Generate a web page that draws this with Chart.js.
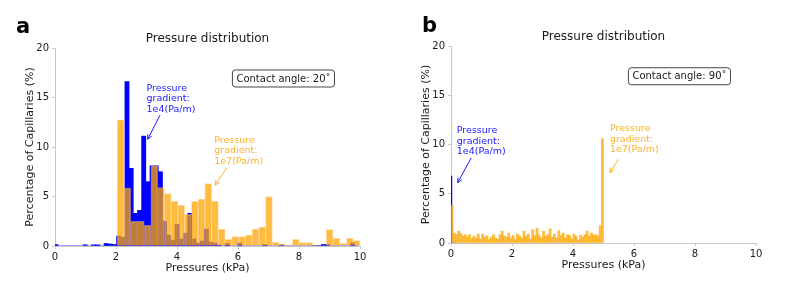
<!DOCTYPE html>
<html><head><meta charset="utf-8">
<script src="https://cdn.jsdelivr.net/npm/chart.js@4.4.1/dist/chart.umd.min.js"></script>
<style>
html,body{margin:0;padding:0;background:#fff;width:804px;height:295px;overflow:hidden}
.wrap{position:absolute;top:0;width:402px;height:295px}
</style></head><body>
<div class="wrap" style="left:0"><canvas id="ca" width="402" height="295"></canvas></div>
<div class="wrap" style="left:402px"><canvas id="cb" width="402" height="295"></canvas></div>
<script>
// ---------------- data ----------------
const xTickValues = [0, 2, 4, 6, 8, 10];
const yTickValues = [0, 5, 10, 15, 20];

// Panel a, gradient 1e7 (orange): histogram bins
const orangeA_binStart = 2.04, orangeA_binWidth = 0.2211;
const orangeA = [12.75, 5.85, 2.5, 2.5, 2.1, 8.1, 5.9, 5.3, 4.5, 4.1, 3.2, 4.5, 4.75, 6.3, 4.5, 1.7,
  0.67, 0.94, 0.94, 1.1, 1.7, 1.9, 5.0, 0.37, 0.17, 0.1, 0.67, 0.34, 0.34, 0.1, 0.05, 1.65, 0.78, 0.27, 0.8, 0.54];

// Panel a, gradient 1e4 (blue)
const blueA_binStart = -0.037, blueA_binWidth = 0.137;
const blueA = [0.15, 0, 0, 0, 0, 0, 0, 0.12, 0, 0.12, 0.12, 0, 0.25, 0.2, 0.15, 1.0, 0.9,
  16.6, 7.85, 3.3, 3.6, 11.1, 6.5, 8.1, 8.1, 7.5, 2.5, 1.1, 0.6, 2.2, 0.7, 1.3, 3.3, 0.7, 0.3, 0.5,
  1.7, 0.4, 0.3, 0.1, 0, 0.25, 0, 0, 0.3, 0, 0, 0, 0, 0, 0.12, 0, 0, 0, 0.1, 0, 0, 0, 0, 0, 0, 0,
  0.05, 0.05, 0.15, 0.15, 0, 0, 0, 0, 0, 0.3, 0];

// Panel b, gradient 1e7 (orange)
const orangeB_binStart = 0, orangeB_binWidth = 5 / 70;
const orangeB = [3.8, 1.0, 0.85, 1.2, 1.0, 0.7, 0.85, 0.6, 0.85, 0.45, 0.7, 0.5, 0.9, 0.4, 0.9, 0.6,
  0.75, 0.35, 0.6, 0.85, 0.5, 0.4, 0.85, 1.2, 0.7, 0.6, 1.0, 0.5, 0.75, 0.35, 0.9, 0.7, 0.5, 1.2, 0.7,
  0.9, 0.4, 1.35, 0.75, 1.5, 0.75, 0.5, 1.2, 0.7, 0.85, 1.45, 0.6, 0.9, 0.5, 1.25, 0.75, 1.0, 0.5, 0.85,
  0.75, 0.4, 0.9, 0.7, 0.3, 0.8, 0.6, 0.85, 1.2, 0.7, 1.0, 0.8, 0.85, 0.7, 1.75, 10.6];

// Panel b, gradient 1e4 (blue)
const blueB_binStart = -0.03, blueB_binWidth = 0.06;
const blueB = [6.8, 0, 0];

// ---------------- helpers ----------------
const FONT = "'DejaVu Sans', 'Liberation Sans', sans-serif";
const ORANGE = 'rgba(255,165,0,0.75)';
const BLUE = '#0000ff';
const TEXT = '#1a1a1a';
const AXIS = '#c8c8c8';

function toBins(start, width, values) {
  return values.map((v, i) => ({ x: start + (i + 0.5) * width, y: v }));
}

function drawArrow(ctx, x1, y1, x2, y2, color) {
  ctx.save();
  ctx.strokeStyle = color; ctx.lineWidth = 1;
  ctx.beginPath(); ctx.moveTo(x1, y1); ctx.lineTo(x2, y2); ctx.stroke();
  const a = Math.atan2(y2 - y1, x2 - x1), L = 5, s = 0.45;
  ctx.beginPath();
  ctx.moveTo(x2 - L * Math.cos(a - s), y2 - L * Math.sin(a - s));
  ctx.lineTo(x2, y2);
  ctx.lineTo(x2 - L * Math.cos(a + s), y2 - L * Math.sin(a + s));
  ctx.stroke();
  ctx.restore();
}

const decorPlugin = {
  id: 'decor',
  afterDraw(chart, args, o) {
    const ctx = chart.ctx, ca = chart.chartArea;
    const xs = chart.scales.x, ys = chart.scales.y;
    ctx.save();
    ctx.fillStyle = '#000';
    ctx.font = 'bold 21px ' + FONT;
    ctx.textAlign = 'left'; ctx.textBaseline = 'alphabetic';
    ctx.fillText(o.letter, o.letterX, o.letterY);
    ctx.font = '12px ' + FONT; ctx.fillStyle = TEXT;
    ctx.textAlign = 'center';
    ctx.fillText('Pressure distribution', (ca.left + ca.right) / 2, ca.top - 6);
    ctx.font = '11px ' + FONT;
    ctx.fillText('Pressures (kPa)', (ca.left + ca.right) / 2, ca.bottom + 25);
    ctx.save();
    ctx.translate(ca.left - 25, (ca.top + ca.bottom) / 2);
    ctx.rotate(-Math.PI / 2);
    ctx.textBaseline = 'middle';
    ctx.fillText('Percentage of Capillaries (%)', 0, 0);
    ctx.restore();
    ctx.font = '10px ' + FONT;
    const txt = 'Contact angle: ' + o.angle + '˚';
    const tw = ctx.measureText(txt).width;
    const bx = xs.getPixelForValue(o.box[0]), by = ys.getPixelForValue(o.box[1]);
    const w = tw + 8, h = 17, r = 3;
    ctx.beginPath();
    ctx.roundRect(bx - w / 2, by - h / 2, w, h, r);
    ctx.fillStyle = '#fff'; ctx.fill();
    ctx.strokeStyle = '#444'; ctx.lineWidth = 1; ctx.stroke();
    ctx.fillStyle = TEXT; ctx.textAlign = 'center'; ctx.textBaseline = 'middle';
    ctx.fillText(txt, bx, by + 0.5);
    ctx.font = '9.5px ' + FONT; ctx.textAlign = 'left'; ctx.textBaseline = 'alphabetic';
    for (const n of o.notes) {
      ctx.fillStyle = n.color;
      const px = xs.getPixelForValue(n.x), py = ys.getPixelForValue(n.y);
      n.lines.forEach((ln, i) => ctx.fillText(ln, px, py + i * 10.5));
      drawArrow(ctx, xs.getPixelForValue(n.arrow[0]), ys.getPixelForValue(n.arrow[1]),
        xs.getPixelForValue(n.arrow[2]), ys.getPixelForValue(n.arrow[3]), n.color);
    }
    ctx.restore();
  }
};

function makeChart(id, orangeData, blueData, layout, decor, orangeBorder) {
  const axisCommon = {
    type: 'linear',
    grid: { drawOnChartArea: false, drawTicks: true, tickLength: 3, color: AXIS, offset: false },
    border: { color: AXIS, width: 1 },
  };
  return new Chart(document.getElementById(id), {
    type: 'bar',
    data: {
      datasets: [
        { label: '1e7', data: orangeData, xAxisID: 'x', backgroundColor: ORANGE,
          borderColor: 'rgba(255,190,90,0.55)', borderWidth: orangeBorder, borderSkipped: 'bottom',
          barPercentage: 1, categoryPercentage: 1, grouped: false, order: 0 },
        { label: '1e4', data: blueData, xAxisID: 'x2', backgroundColor: BLUE, borderWidth: 0,
          barPercentage: 1, categoryPercentage: 1, grouped: false, order: 1 }
      ]
    },
    options: {
      responsive: false, animation: false, devicePixelRatio: 1,
      layout: { padding: { left: 0, top: layout.top, right: layout.right, bottom: 0 } },
      plugins: { legend: { display: false }, tooltip: { enabled: false }, decor },
      scales: {
        x: Object.assign({}, axisCommon, {
          min: 0, max: 10, position: 'bottom', offset: false,
          afterBuildTicks: s => { s.ticks = xTickValues.map(v => ({ value: v })); },
          ticks: { color: TEXT, font: { family: FONT, size: 10 }, padding: 2, maxRotation: 0 },
          afterFit: s => { s.height = layout.xh; }
        }),
        x2: { type: 'linear', min: 0, max: 10, display: false, position: 'bottom', offset: false },
        y: Object.assign({}, axisCommon, {
          min: 0, max: 20, position: 'left',
          afterBuildTicks: s => { s.ticks = yTickValues.map(v => ({ value: v })); },
          ticks: { color: TEXT, font: { family: FONT, size: 10 }, padding: 3 },
          afterFit: s => { s.width = layout.yw; }
        })
      }
    },
    plugins: [decorPlugin]
  });
}

makeChart('ca',
  toBins(orangeA_binStart, orangeA_binWidth, orangeA),
  toBins(blueA_binStart, blueA_binWidth, blueA),
  { top: 48, right: 42, yw: 55, xh: 49 },
  { letter: 'a', letterX: 16, letterY: 33, angle: 20, box: [7.49, 16.92],
    notes: [
      { lines: ['Pressure', 'gradient:', '1e4(Pa/m)'], x: 3.0, y: 15.7, color: '#1a1aff', arrow: [3.44, 13.2, 3.04, 10.78] },
      { lines: ['Pressure', 'gradient:', '1e7(Pa/m)'], x: 5.22, y: 10.45, color: 'rgba(255,165,0,0.85)', arrow: [5.63, 7.88, 5.25, 6.16] }
    ] }, 1);

makeChart('cb',
  toBins(orangeB_binStart, orangeB_binWidth, orangeB),
  toBins(blueB_binStart, blueB_binWidth, blueB),
  { top: 46, right: 48, yw: 49, xh: 52 },
  { letter: 'b', letterX: 20, letterY: 32, angle: 90, box: [7.49, 16.93],
    notes: [
      { lines: ['Pressure', 'gradient:', '1e4(Pa/m)'], x: 0.19, y: 11.16, color: '#1a1aff', arrow: [0.66, 8.63, 0.22, 6.13] },
      { lines: ['Pressure', 'gradient:', '1e7(Pa/m)'], x: 5.21, y: 11.37, color: 'rgba(255,165,0,0.85)', arrow: [5.49, 8.5, 5.21, 7.14] }
    ] }, 0);
</script>
</body></html>
